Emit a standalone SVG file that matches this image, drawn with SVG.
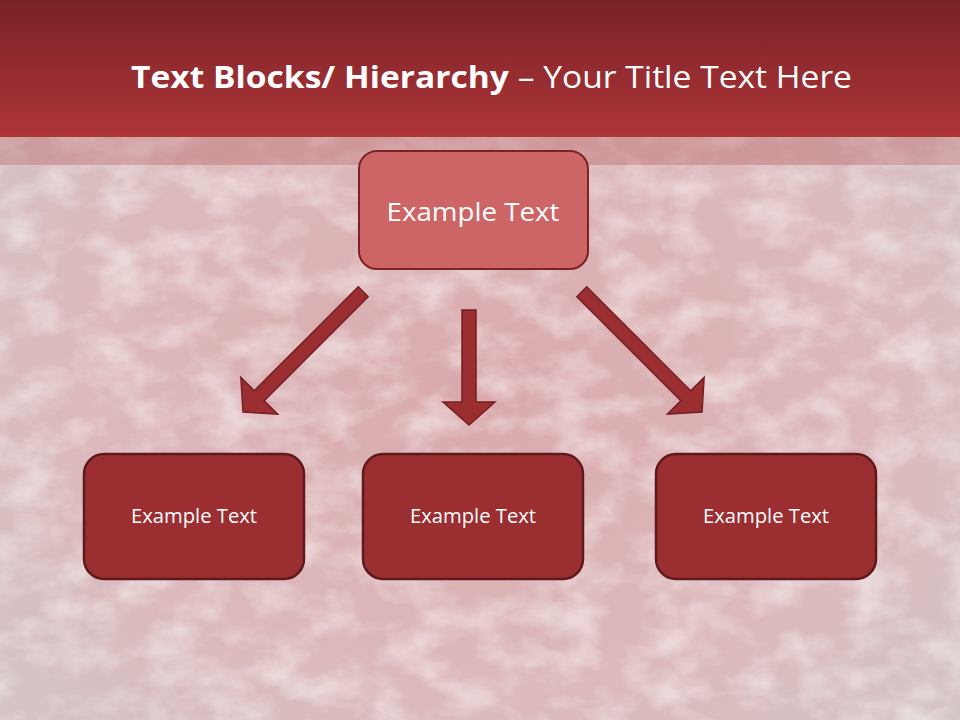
<svg xmlns="http://www.w3.org/2000/svg" width="960" height="720" viewBox="0 0 960 720">
<style>
.title{font-family:"Open Sans","Liberation Sans",sans-serif;font-size:31px;fill:#ffffff}
.top{fill:#cd6567;stroke:#7a2226;stroke-width:2}
.box{fill:#9a2e31;stroke:#5e1a1c;stroke-width:2.5}
.t1{font-family:"Open Sans","Liberation Sans",sans-serif;font-size:26px;fill:#ffffff;text-anchor:middle}
.t2{font-family:"Open Sans","Liberation Sans",sans-serif;font-size:19.5px;fill:#ffffff;text-anchor:middle}
.arrow{fill:#9a2e31;stroke:#741f23;stroke-width:1.5;stroke-linejoin:miter}
</style>
<defs>
<linearGradient id="hdr" x1="0" y1="0" x2="0" y2="1">
<stop offset="0" stop-color="#792226"/>
<stop offset="1" stop-color="#ae3539"/>
</linearGradient>
<radialGradient id="bg" cx="0.5" cy="0.55" r="0.7">
<stop offset="0" stop-color="#d9a9ac"/>
<stop offset="0.6" stop-color="#dcb9bb"/>
<stop offset="1" stop-color="#d3c6c8"/>
</radialGradient>
<filter id="tex" x="0" y="0" width="1" height="1">
<feTurbulence type="fractalNoise" baseFrequency="0.02 0.03" numOctaves="6" seed="7"/>
<feColorMatrix type="matrix" values="0 0 0 0 1  0 0 0 0 1  0 0 0 0 1  0 0 0 -2.4 1.45"/>
</filter>
<path id="aLong" d="M -7 -170 L 7 -170 L 7 -23 L 26 -23 L 0 0 L -26 -23 L -7 -23 Z"/>
<path id="aShort" d="M -7 -115 L 7 -115 L 7 -23 L 26 -23 L 0 0 L -26 -23 L -7 -23 Z"/>
</defs>
<rect x="0" y="0" width="960" height="720" fill="url(#bg)"/>
<rect x="0" y="0" width="960" height="720" filter="url(#tex)" opacity="0.45"/>
<rect x="0" y="0" width="960" height="137" fill="url(#hdr)"/>
<rect x="0" y="137" width="960" height="28" fill="#b4585c" opacity="0.35"/>
<text class="title" x="131" y="88" textLength="721" lengthAdjust="spacingAndGlyphs"><tspan font-weight="bold">Text Blocks/ Hierarchy</tspan> – Your Title Text Here</text>
<g id="connectors">
<use href="#aLong" class="arrow" transform="translate(243,412) rotate(45)"/>
<use href="#aShort" class="arrow" transform="translate(469,425)"/>
<use href="#aLong" class="arrow" transform="translate(702,412) rotate(-45)"/>
</g>
<g id="node-top">
<rect class="top" x="359" y="151" width="229" height="118" rx="18"/>
<text class="t1" x="473" y="221" textLength="173" lengthAdjust="spacingAndGlyphs">Example Text</text>
</g>
<g id="node-left">
<rect class="box" x="84" y="454" width="220" height="125" rx="20"/>
<text class="t2" x="194" y="523" textLength="126" lengthAdjust="spacingAndGlyphs">Example Text</text>
</g>
<g id="node-middle">
<rect class="box" x="363" y="454" width="220" height="125" rx="20"/>
<text class="t2" x="473" y="523" textLength="126" lengthAdjust="spacingAndGlyphs">Example Text</text>
</g>
<g id="node-right">
<rect class="box" x="656" y="454" width="220" height="125" rx="20"/>
<text class="t2" x="766" y="523" textLength="126" lengthAdjust="spacingAndGlyphs">Example Text</text>
</g>
</svg>
